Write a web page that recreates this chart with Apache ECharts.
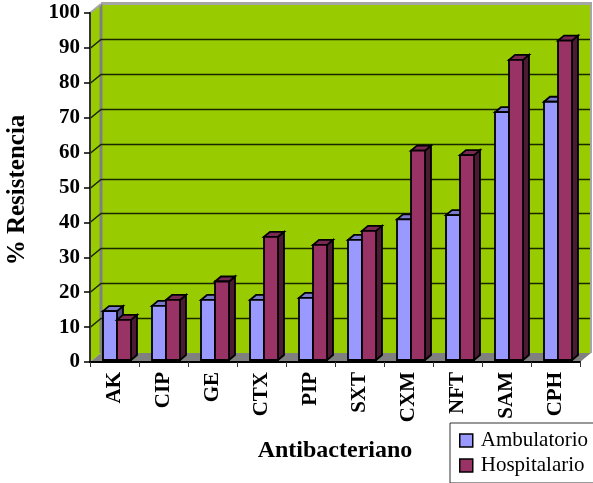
<!DOCTYPE html>
<html>
<head>
<meta charset="utf-8">
<style>html,body{margin:0;padding:0;background:#fff}#c{width:593px;height:483px}</style>
<script src="https://cdn.jsdelivr.net/npm/echarts@6/dist/echarts.min.js"></script>
</head>
<body>
<div id="c"></div>
<script>
const categories = ['AK','CIP','GE','CTX','PIP','SXT','CXM','NFT','SAM','CPH'];
const ambulatorio = [14, 15.5, 17.2, 17.2, 17.8, 34.4, 40.3, 41.5, 71, 74];
const hospitalario = [11.5, 17.2, 22.5, 35.3, 33, 37, 60, 58.7, 86, 91.5];
const gridValues = [10,20,30,40,50,60,70,80,90];

const FONT = '"Liberation Serif","Times New Roman",serif';
const WALL_DX = 11, WALL_DY = 9;   // shift of the back wall from the axis plane
const BAR_DX = 6, BAR_DY = 5;      // depth of each 3D column
const BAR_SHIFT_X = 0, BAR_LIFT = 2;

// Side wall, back wall and floor of the 3D box
function renderWalls(params, api) {
  const c = params.coordSys;
  const L = c.x, T = c.y, R = c.x + c.width, B = c.y + c.height;
  const poly = (pts, fill) => ({type:'polygon', shape:{points:pts}, style:{fill, stroke:null}});
  const line = (x1,y1,x2,y2,color,w) => ({type:'line', shape:{x1,y1,x2,y2}, style:{stroke:color, lineWidth:w}});
  return {type:'group', children:[
    poly([[L+WALL_DX,T-WALL_DY],[R+WALL_DX,T-WALL_DY],[R+WALL_DX,B-WALL_DY],[L+WALL_DX,B-WALL_DY]], '#99CC00'),
    poly([[L,T],[L+WALL_DX,T-WALL_DY],[L+WALL_DX,B-WALL_DY],[L,B]], '#99CC00'),
    poly([[L,B],[L+WALL_DX,B-WALL_DY],[R+WALL_DX,B-WALL_DY],[R,B]], '#808080'),
    line(L+WALL_DX,T-WALL_DY-0.5,R+WALL_DX+1,T-WALL_DY-0.5,'#A6A6A6',3),
    line(R+WALL_DX,T-WALL_DY,R+WALL_DX,B-WALL_DY,'#A6A6A6',2),
    line(L+WALL_DX,T-WALL_DY,L+WALL_DX,B-WALL_DY,'#808080',3),
    line(L,T,L+WALL_DX,T-WALL_DY,'#A6A6A6',2)
  ]};
}

// One horizontal grid line, running along the side wall and across the back wall
function renderGridLine(params, api) {
  const c = params.coordSys;
  const y = Math.round(api.coord([0, api.value(0)])[1]) + 0.5;
  return {type:'polyline',
    shape:{points:[[c.x,y],[c.x+WALL_DX,y-WALL_DY],[c.x+c.width+WALL_DX-1,y-WALL_DY]]},
    style:{fill:null, stroke:'#1a2600', lineWidth:1.5}};
}

// A 3D column: front, top and side faces
function columnRenderer(slot, front, top, side) {
  return function (params, api) {
    const i = api.value(0);
    const band = api.size([1,0])[0];
    const base = api.coord([i,0]);
    const head = api.coord([i,api.value(1)]);
    const w = band * 14 / 49;
    const x0 = base[0] - band/2 + band * 13 / 49 + slot * w + BAR_SHIFT_X;
    const x1 = x0 + w;
    const y0 = base[1] - BAR_LIFT;
    const y1 = head[1] - BAR_LIFT;
    const st = (fill) => ({fill, stroke:'#000', lineWidth:1.8, lineJoin:'miter'});
    return {type:'group', children:[
      {type:'polygon', shape:{points:[[x1,y0],[x1+BAR_DX,y0-BAR_DY],[x1+BAR_DX,y1-BAR_DY],[x1,y1]]}, style:st(side)},
      {type:'polygon', shape:{points:[[x0,y1],[x0+BAR_DX,y1-BAR_DY],[x1+BAR_DX,y1-BAR_DY],[x1,y1]]}, style:st(top)},
      {type:'rect', shape:{x:x0,y:y1,width:w,height:y0-y1}, style:st(front)}
    ]};
  };
}

const pairs = (arr) => arr.map((v,i)=>[i,v]);

const chart = echarts.init(document.getElementById('c'), null, {renderer:'canvas'});
chart.setOption({
  animation:false,
  backgroundColor:'#fff',
  grid:{left:90, top:13, width:490, height:349, containLabel:false, outerBoundsMode:'none'},
  xAxis:{
    type:'category', data:categories, z:2,
    name:'Antibacteriano', nameLocation:'middle', nameGap:77,
    nameTextStyle:{fontFamily:FONT,fontWeight:'bold',fontSize:24,color:'#000'},
    axisLine:{lineStyle:{color:'#000',width:2}},
    axisTick:{show:true,length:5,lineStyle:{color:'#333',width:1}},
    axisLabel:{rotate:90,fontFamily:FONT,fontWeight:'bold',fontSize:21,color:'#000',margin:10,interval:0}
  },
  yAxis:{
    type:'value', min:0, max:100, interval:10, z:2,
    name:'% Resistencia', nameLocation:'middle', nameGap:60, nameRotate:90,
    nameTextStyle:{fontFamily:FONT,fontWeight:'bold',fontSize:25,color:'#000',padding:[0,5,0,0]},
    axisLine:{show:true,lineStyle:{color:'#333',width:2}},
    axisTick:{show:true,length:6,lineStyle:{color:'#000',width:1.5}},
    axisLabel:{fontFamily:FONT,fontWeight:'bold',fontSize:21,color:'#000',margin:10},
    splitLine:{show:false}
  },
  legend:{
    data:['Ambulatorio','Hospitalario'], orient:'vertical', icon:'rect',
    left:450, top:423, width:190,
    padding:[7,40,7,9], itemGap:4, itemWidth:13, itemHeight:13,
    backgroundColor:'#fff', borderColor:'#333', borderWidth:1, borderRadius:0,
    textStyle:{fontFamily:FONT,fontSize:21,color:'#000',padding:[0,0,0,3]},
    itemStyle:{borderColor:'#000',borderWidth:1.5}
  },
  series:[
    {type:'custom', name:'walls', z:1, silent:true, data:[[0]], renderItem:renderWalls, clip:false},
    {type:'custom', name:'grid', z:1, silent:true, data:gridValues.map(v=>[v]), encode:{y:0}, renderItem:renderGridLine, clip:false},
    {type:'custom', name:'Ambulatorio', z:3, data:pairs(ambulatorio), itemStyle:{color:'#9999FF'},
      encode:{x:0,y:1}, clip:false, renderItem:columnRenderer(0,'#9999FF','#7A7ACC','#4D4D80')},
    {type:'custom', name:'Hospitalario', z:3, data:pairs(hospitalario), itemStyle:{color:'#993366'},
      encode:{x:0,y:1}, clip:false, renderItem:columnRenderer(1,'#993366','#7A2952','#4D1A33')}
  ]
});
</script>
</body>
</html>
